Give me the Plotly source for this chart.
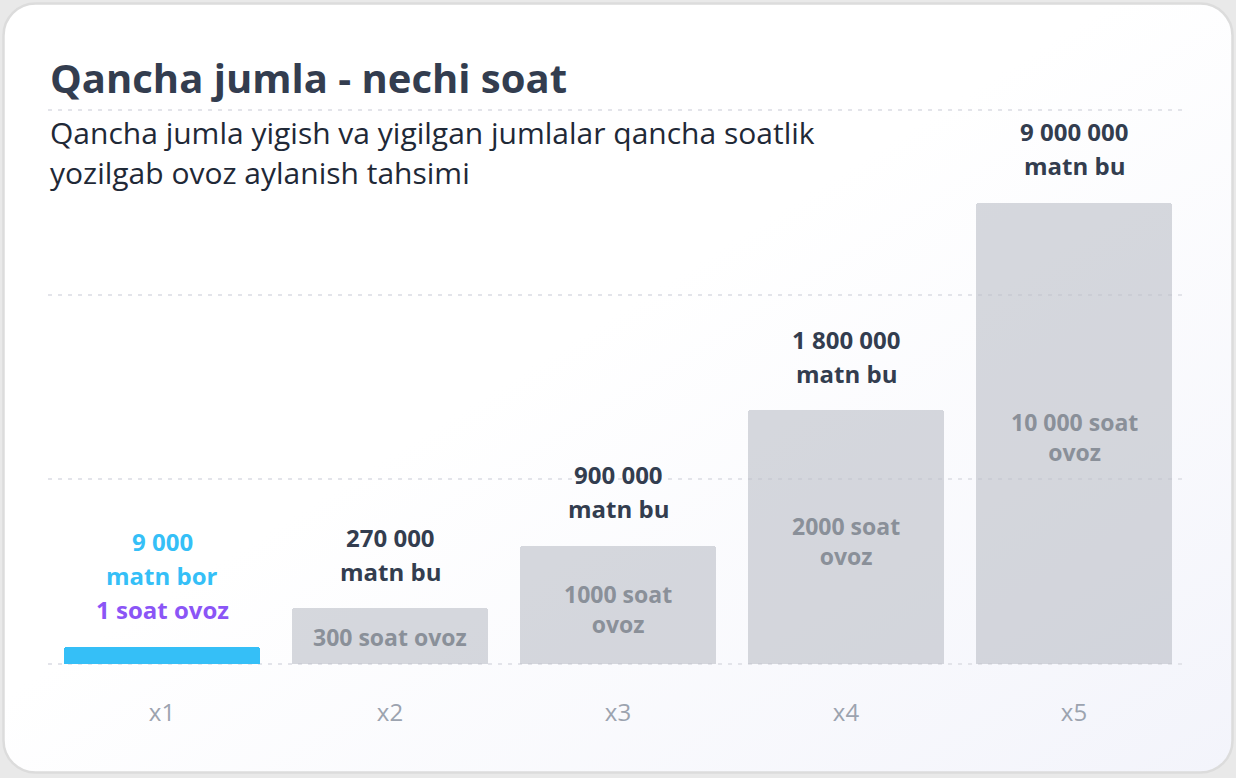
import base64
import plotly.graph_objects as go

# ---- data ----
categories = ["x1", "x2", "x3", "x4", "x5"]
bar_heights = [0.9, 3.0, 6.4, 13.75, 25.0]          # visual bar height (relative units)
count_labels = ["9 000", "270 000", "900 000", "1 800 000", "9 000 000"]
count_suffix = ["matn bor", "matn bu", "matn bu", "matn bu", "matn bu"]
hours_labels = ["1 soat ovoz", "300 soat ovoz", "1000 soat<br>ovoz",
                "2000 soat<br>ovoz", "10 000 soat<br>ovoz"]

title_text = "Qancha jumla - nechi soat"
subtitle_lines = ["Qancha jumla yigish va yigilgan jumlalar qancha soatlik",
                  "yozilgab ovoz aylanish tahsimi"]

# ---- style ----
W, H = 1236, 778
ML, MR, MT, MB = 48, 48, 92, 96
PW, PH = W - ML - MR, H - MT - MB
FONT = "Open Sans"
BLUE = "#35bff7"
PURPLE = "#8b55f6"
DARK = "#333d4f"
GRAY_BAR = "rgba(186,190,198,0.6)"
GRAY_TXT = "#8a9099"

bar_colors = [BLUE] + [GRAY_BAR] * 4

fig = go.Figure()
fig.add_trace(go.Bar(
    x=categories, y=bar_heights,
    marker=dict(color=bar_colors, line=dict(width=0), cornerradius=3),
    hoverinfo="skip", width=196 / 228,
))

annotations = []
for i, cat in enumerate(categories):
    # labels above bars
    if i == 0:
        lines = [(count_labels[i], BLUE), (count_suffix[i], BLUE), (hours_labels[i], PURPLE)]
    else:
        lines = [(count_labels[i], DARK), (count_suffix[i], DARK)]
    n = len(lines)
    for k, (txt, col) in enumerate(lines):
        off = 37 + 34 * (n - 1 - k)
        annotations.append(dict(
            x=cat, y=bar_heights[i], xref="x", yref="y", text=txt, showarrow=False,
            yanchor="middle", xanchor="center", yshift=off,
            font=dict(family=FONT, size=24, color=col, weight="bold")))
    # labels inside bars
    if i > 0:
        two = "<br>" in hours_labels[i]
        annotations.append(dict(
            x=cat, y=bar_heights[i] / 2, xref="x", yref="y", text=hours_labels[i],
            showarrow=False, yanchor="middle", xanchor="center",
            yshift=-4 if two else -1,
            font=dict(family=FONT, size=23, color=GRAY_TXT, weight="bold")))

annotations.append(dict(
    x=0, y=1 + (MT - 78) / PH, xref="paper", yref="paper", text=title_text,
    showarrow=False, xanchor="left", yanchor="middle",
    font=dict(family=FONT, size=40, color=DARK, weight="bold")))
for j, line in enumerate(subtitle_lines):
    annotations.append(dict(
        x=0, y=1 + (MT - (132 + 40 * j)) / PH, xref="paper", yref="paper", text=line,
        showarrow=False, xanchor="left", yanchor="middle",
        font=dict(family=FONT, size=30, color="#1f2937")))

svg = (
    "<svg xmlns='http://www.w3.org/2000/svg' width='1236' height='778' viewBox='0 0 1236 778' preserveAspectRatio='none'>"
    "<defs><linearGradient id='g' x1='0' y1='0' x2='1' y2='1'>"
    "<stop offset='0.45' stop-color='#ffffff'/><stop offset='1' stop-color='#f3f4fb'/>"
    "</linearGradient></defs>"
    "<rect x='3.5' y='3.5' width='1229' height='769' rx='32' ry='32' fill='url(#g)' stroke='#dcdcdc' stroke-width='2.5'/>"
    "</svg>"
)
src = "data:image/svg+xml;base64," + base64.b64encode(svg.encode()).decode()

fig.update_layout(
    width=W, height=H,
    margin=dict(l=ML, r=MR, t=MT, b=MB, pad=0),
    paper_bgcolor="#e9e9e9", plot_bgcolor="rgba(0,0,0,0)",
    showlegend=False, bargap=0,
    annotations=annotations,
    images=[dict(source=src, xref="paper", yref="paper",
                 x=-ML / PW, y=1 + MT / PH, sizex=W / PW, sizey=H / PH,
                 xanchor="left", yanchor="top", sizing="stretch", layer="below")],
    xaxis=dict(range=[-0.5, 4.5], showgrid=False, zeroline=False, showline=False,
               ticks="", ticklabelstandoff=14,
               tickfont=dict(family=FONT, size=24, color="#9ca3af")),
    yaxis=dict(range=[-1, 31], tickvals=[0, 10, 20, 30], showticklabels=False, zeroline=False,
               showline=False, showgrid=True, gridcolor="#e3e4ea", gridwidth=2,
               griddash="4px,6px", layer="above traces"),
)

fig.write_html("out.html")
